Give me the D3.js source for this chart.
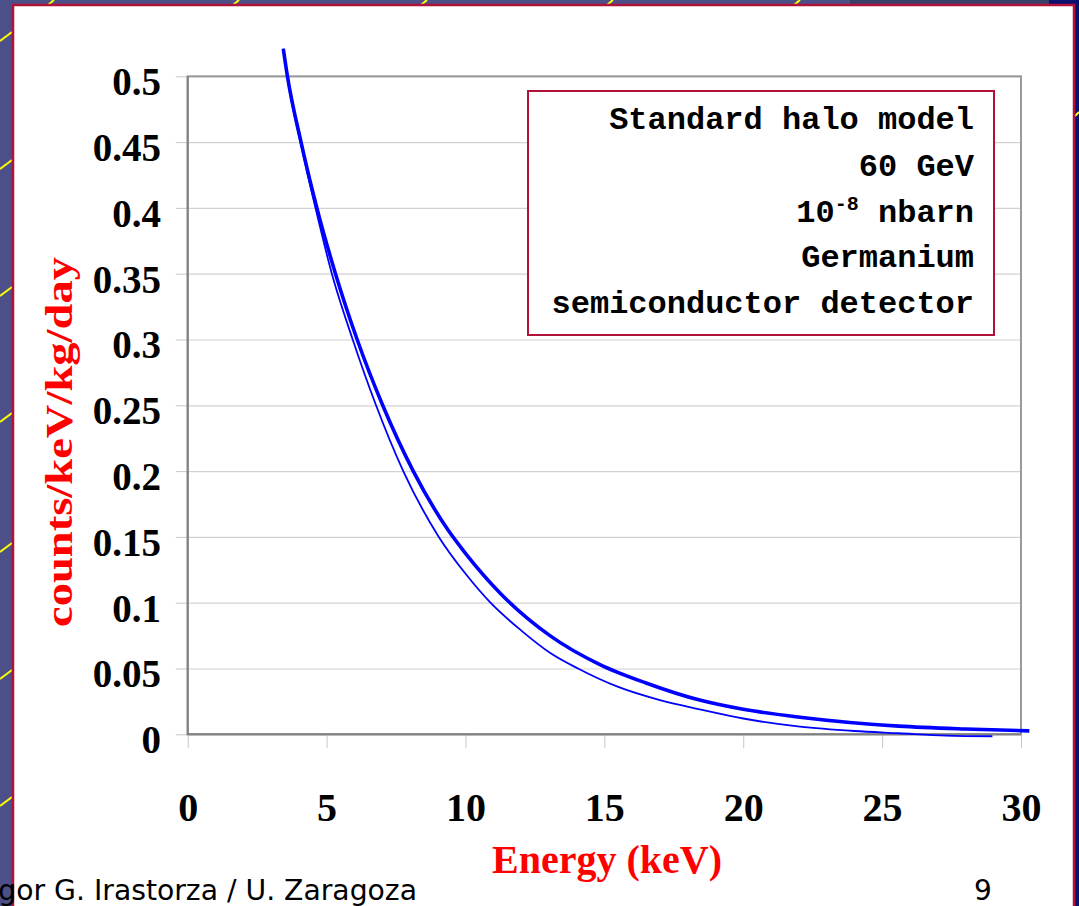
<!DOCTYPE html>
<html>
<head>
<meta charset="utf-8">
<script src="https://cdn.jsdelivr.net/npm/d3@7"></script>
<style>
  html, body { margin: 0; padding: 0; background: #4d4f88; }
  svg { display: block; }
</style>
</head>
<body>
<svg id="chart" width="1079" height="906"></svg>
<script>
// energy (keV) / rate (counts/keV/kg/day)
var thickE = [3.44, 3.59, 4.08, 4.65, 5.32, 6.1, 7.02, 8.12, 9.38, 10.0, 11.26, 13.04, 14.84, 16.5, 18.43, 20.0, 22.04, 25.6, 28.0, 30.3];
var thickV = [0.521, 0.5, 0.45, 0.4, 0.35, 0.3, 0.25, 0.2, 0.155, 0.1375, 0.107, 0.075, 0.053, 0.039, 0.026, 0.019, 0.013, 0.0062, 0.004, 0.0026];

var thinE = [3.44, 3.58, 4.06, 4.6, 5.19, 5.94, 6.78, 7.76, 9.04, 10.04, 10.9, 12.0, 13.04, 14.05, 15.5, 17.0, 18.43, 20.0, 22.04, 24.0, 25.6, 27.3, 28.97];
var thinV = [0.521, 0.5, 0.45, 0.4, 0.35, 0.3, 0.25, 0.2, 0.15, 0.121, 0.1, 0.079, 0.062, 0.05, 0.036, 0.026, 0.019, 0.012, 0.0058, 0.0025, 0.0008, -0.001, -0.0015];

var xTicks = [0, 5, 10, 15, 20, 25, 30];
var yTicks = [0, 0.05, 0.1, 0.15, 0.2, 0.25, 0.3, 0.35, 0.4, 0.45, 0.5];
var yTickLabels = ["0", "0.05", "0.1", "0.15", "0.2", "0.25", "0.3", "0.35", "0.4", "0.45", "0.5"];

var legendLines = ["Standard halo model", "60 GeV", "10|-8| nbarn", "Germanium", "semiconductor detector"];

var svg = d3.select('#chart');

// slide background bits
svg.append('rect').attr('x', 0).attr('y', 0).attr('width', 1079).attr('height', 906).attr('fill', '#4d4f88');
svg.append('rect').attr('x', 850).attr('y', 0).attr('width', 200).attr('height', 6).attr('fill', '#3a4168');
svg.append('rect').attr('x', 1049).attr('y', 0).attr('width', 30).attr('height', 906).attr('fill', '#0b0f6e');

var yellow = svg.append('g').attr('stroke', '#ffff00').attr('stroke-width', 2);
[32, 160, 287, 413, 543, 670, 797].forEach(function(y){
  yellow.append('line').attr('x1', 0).attr('y1', y + 9).attr('x2', 12).attr('y2', y);
});
[52, 237, 425, 611, 798].forEach(function(x){
  yellow.append('line').attr('x1', x - 4).attr('y1', 5).attr('x2', x + 2).attr('y2', 0);
});
yellow.append('line').attr('x1', 1075).attr('y1', 116).attr('x2', 1079).attr('y2', 112);

// white panel
svg.append('rect')
  .attr('x', 13).attr('y', 5).attr('width', 1061).attr('height', 920)
  .attr('fill', '#ffffff').attr('stroke', '#b0123a').attr('stroke-width', 2.5);

var m = {left: 187.7, top: 76.3, right: 1021, bottom: 734.3};
var x = d3.scaleLinear().domain([0, 30]).range([m.left, m.right]);
var y = d3.scaleLinear().domain([0, 0.5]).range([m.bottom, m.top]);

// gridlines
svg.append('g')
  .attr('transform', 'translate(' + m.left + ',0)')
  .call(d3.axisLeft(y).tickValues(yTicks).tickSize(-(m.right - m.left)).tickFormat(''))
  .call(function(g){
    g.select('.domain').remove();
    g.selectAll('line').attr('stroke', '#d2d2d2').attr('stroke-width', 1.2);
  });

// y axis
svg.append('g')
  .attr('transform', 'translate(' + m.left + ',0)')
  .call(d3.axisLeft(y).tickValues(yTicks).tickSize(12).tickPadding(14.7)
    .tickFormat(function(d, i){ return yTickLabels[i]; }))
  .call(function(g){
    g.select('.domain').remove();
    g.selectAll('line').attr('stroke', '#c8c8c8');
    g.selectAll('text')
      .attr('dy', '0.47em')
      .attr('fill', '#000')
      .style('font-family', '"Liberation Serif", "Times New Roman", serif')
      .style('font-weight', 'bold')
      .style('font-size', '39px');
  });

// x axis
svg.append('g')
  .attr('transform', 'translate(0,' + m.bottom + ')')
  .call(d3.axisBottom(x).tickValues(xTicks).tickSize(14))
  .call(function(g){
    g.select('.domain').remove();
    g.selectAll('line').attr('stroke', '#c8c8c8');
    g.selectAll('text')
      .attr('y', 86.7).attr('dy', 0)
      .attr('fill', '#000')
      .style('font-family', '"Liberation Serif", "Times New Roman", serif')
      .style('font-weight', 'bold')
      .style('font-size', '40px');
  });

// plot frame
svg.append('rect')
  .attr('x', m.left).attr('y', m.top)
  .attr('width', m.right - m.left).attr('height', m.bottom - m.top)
  .attr('fill', 'none').attr('stroke', '#9a9a9a').attr('stroke-width', 2);
svg.append('path')
  .attr('d', 'M' + m.left + ',' + m.top + 'V' + m.bottom + 'H' + m.right)
  .attr('fill', 'none').attr('stroke', '#808080').attr('stroke-width', 2);

// curves
var line = d3.line()
  .x(function(d){ return x(d[0]); })
  .y(function(d){ return y(d[1]); })
  .curve(d3.curveMonotoneX);

svg.append('path')
  .datum(d3.zip(thinE, thinV))
  .attr('d', line)
  .attr('fill', 'none').attr('stroke', '#0000ff').attr('stroke-width', 1.8);

svg.append('path')
  .datum(d3.zip(thickE, thickV))
  .attr('d', line)
  .attr('fill', 'none').attr('stroke', '#0000ff').attr('stroke-width', 3.6);

// legend box
svg.append('rect')
  .attr('x', 528).attr('y', 91).attr('width', 466).attr('height', 244)
  .attr('fill', '#ffffff').attr('stroke', '#b0123a').attr('stroke-width', 2);

var legend = svg.append('g')
  .style('font-family', '"Liberation Mono", "Courier New", monospace')
  .style('font-weight', 'bold')
  .style('font-size', '32px')
  .attr('fill', '#000');

var baselines = [129, 176, 222, 267, 313];
legendLines.forEach(function(s, i){
  var t = legend.append('text').attr('x', 974).attr('y', baselines[i]).attr('text-anchor', 'end');
  var parts = s.split('|');
  if (parts.length === 1) { t.text(s); return; }
  t.append('tspan').text(parts[0]);
  t.append('tspan').text(parts[1]).attr('dy', -12).style('font-size', '20px');
  t.append('tspan').text(parts[2]).attr('dy', 12);
});

// axis titles
svg.append('text')
  .attr('x', 607).attr('y', 873)
  .attr('text-anchor', 'middle')
  .attr('fill', '#ff0000')
  .style('font-family', '"Liberation Serif", "Times New Roman", serif')
  .style('font-weight', 'bold')
  .style('font-size', '40px')
  .text('Energy (keV)');

svg.append('text')
  .attr('transform', 'translate(72,442) rotate(-90)')
  .attr('text-anchor', 'middle')
  .attr('fill', '#ff0000')
  .attr('textLength', 370).attr('lengthAdjust', 'spacingAndGlyphs')
  .style('font-family', '"Liberation Serif", "Times New Roman", serif')
  .style('font-weight', 'bold')
  .style('font-size', '38px')
  .text('counts/keV/kg/day');

// slide footer
svg.append('text')
  .attr('x', -10).attr('y', 900)
  .attr('textLength', 427).attr('lengthAdjust', 'spacingAndGlyphs')
  .attr('fill', '#000')
  .style('font-family', '"DejaVu Sans", Tahoma, sans-serif')
  .style('font-size', '28px')
  .text('Igor G. Irastorza / U. Zaragoza');

svg.append('text')
  .attr('x', 983).attr('y', 900)
  .attr('text-anchor', 'middle')
  .attr('fill', '#000')
  .style('font-family', '"DejaVu Sans", Tahoma, sans-serif')
  .style('font-size', '28px')
  .text('9');
</script>
</body>
</html>
